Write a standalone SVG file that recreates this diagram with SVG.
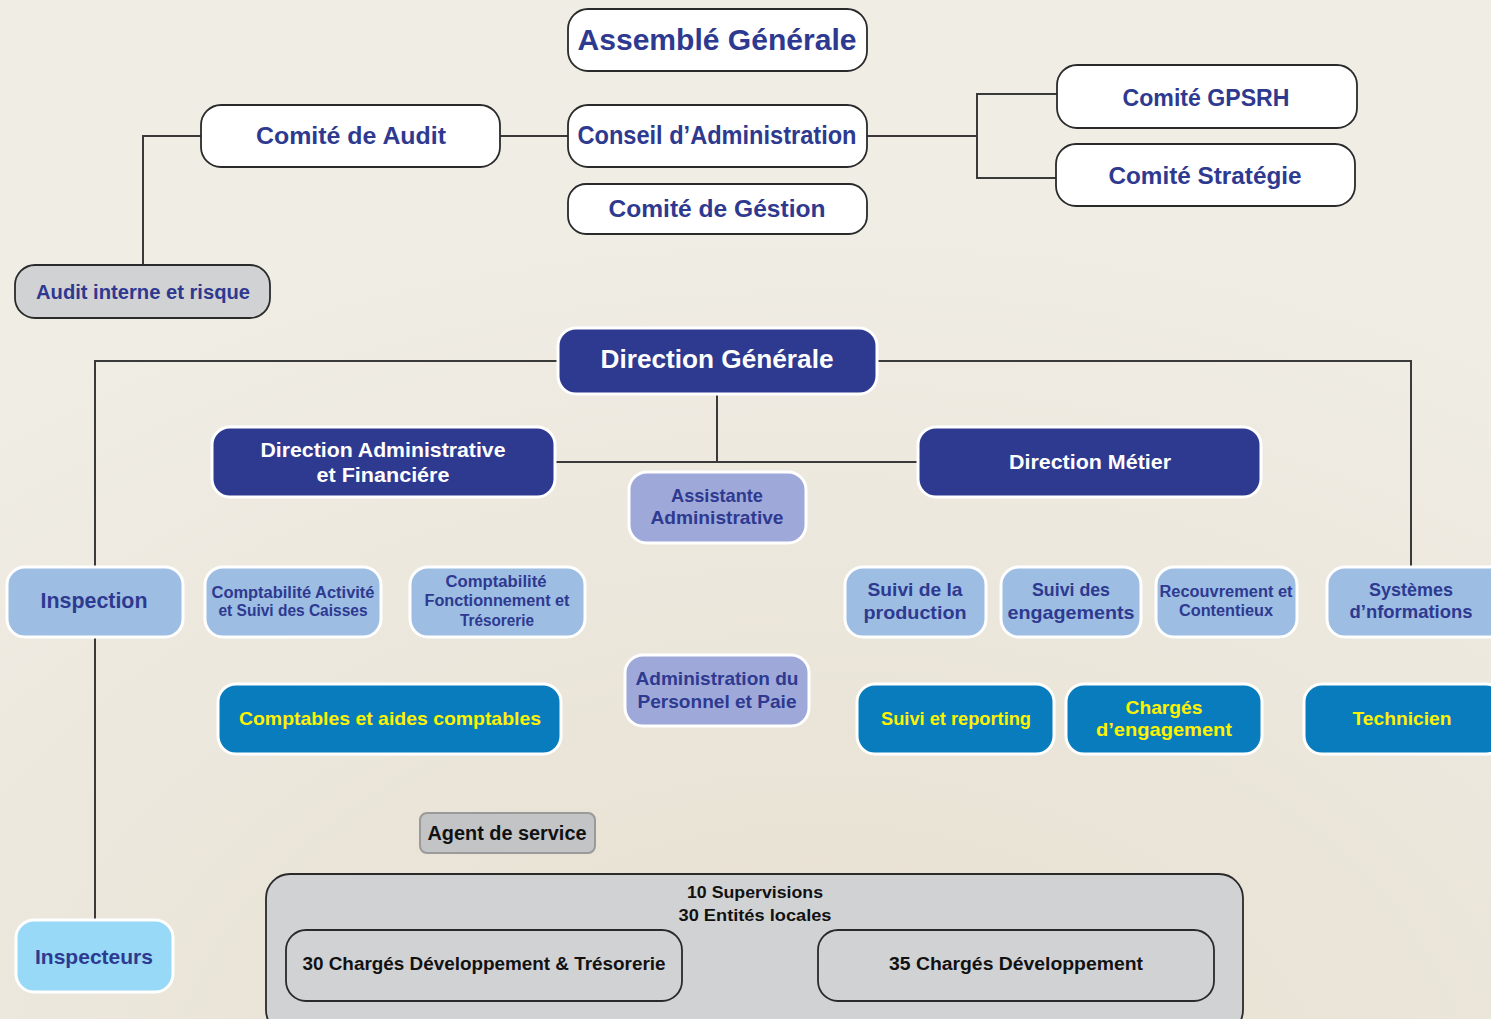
<svg xmlns="http://www.w3.org/2000/svg" width="1491" height="1019" viewBox="0 0 1491 1019">
<defs>
<style>
text{font-family:"Liberation Sans",Arial,sans-serif;font-weight:700;text-anchor:middle;dominant-baseline:central}
.wb{fill:#ffffff;stroke:#2a2a2a;stroke-width:1.8}
.nv{fill:#2e3990;stroke:#ffffff;stroke-width:3}
.lb{fill:#9dbde3;stroke:#ffffff;stroke-width:3}
.pw{fill:#9ea9d9;stroke:#ffffff;stroke-width:3}
.bl{fill:#087cbd;stroke:#ffffff;stroke-width:3}
.sk{fill:#97d9f7;stroke:#ffffff;stroke-width:3}
.gy{fill:#d1d2d4;stroke:#2a2a2a;stroke-width:1.8}
.ag{fill:#c3c4c6;stroke:#9a9a9a;stroke-width:2}
.tb{fill:#2e3990}
.tw{fill:#ffffff}
.ty{fill:#fff200}
.tk{fill:#111111}
.cn{fill:none;stroke:#3a3a3a;stroke-width:2}
</style>
<radialGradient id="bg" cx="0.55" cy="1.1" r="0.9">
<stop offset="0" stop-color="#e6dfcf"/>
<stop offset="0.6" stop-color="#ece7dc"/>
<stop offset="1" stop-color="#f0ede5"/>
</radialGradient>
</defs>
<rect x="0" y="0" width="1491" height="1019" fill="url(#bg)"/>

<g id="connectors">
<polyline class="cn" points="201,136 143,136 143,265"/>
<line class="cn" x1="500" y1="136" x2="568" y2="136"/>
<line class="cn" x1="867" y1="136" x2="977" y2="136"/>
<polyline class="cn" points="1057,94 977,94 977,178 1056,178"/>
<polyline class="cn" points="558,361 95,361 95,567"/>
<polyline class="cn" points="877,361 1411,361 1411,567"/>
<line class="cn" x1="717" y1="395" x2="717" y2="462"/>
<line class="cn" x1="555" y1="462" x2="918" y2="462"/>
<line class="cn" x1="95" y1="637" x2="95" y2="920"/>
</g>

<g id="assemble-generale">
<rect class="wb" x="568" y="9" width="299" height="62" rx="20"/>
<text class="tb" x="717" y="39" font-size="30" textLength="279" lengthAdjust="spacingAndGlyphs">Assemblé Générale</text>
</g>
<g id="comite-audit">
<rect class="wb" x="201" y="105" width="299" height="62" rx="20"/>
<text class="tb" x="351" y="135" font-size="24" textLength="190" lengthAdjust="spacingAndGlyphs">Comité de Audit</text>
</g>
<g id="conseil-administration">
<rect class="wb" x="568" y="105" width="299" height="62" rx="20"/>
<text class="tb" x="717" y="135" font-size="25" textLength="279" lengthAdjust="spacingAndGlyphs">Conseil d’Administration</text>
</g>
<g id="comite-gestion">
<rect class="wb" x="568" y="184" width="299" height="50" rx="18"/>
<text class="tb" x="717" y="208" font-size="24" textLength="217" lengthAdjust="spacingAndGlyphs">Comité de Géstion</text>
</g>
<g id="comite-gpsrh">
<rect class="wb" x="1057" y="65" width="300" height="63" rx="20"/>
<text class="tb" x="1206" y="97" font-size="24" textLength="167" lengthAdjust="spacingAndGlyphs">Comité GPSRH</text>
</g>
<g id="comite-strategie">
<rect class="wb" x="1056" y="144" width="299" height="62" rx="20"/>
<text class="tb" x="1205" y="175" font-size="24" textLength="193" lengthAdjust="spacingAndGlyphs">Comité Stratégie</text>
</g>
<g id="audit-interne">
<rect class="gy" x="15" y="265" width="255" height="53" rx="20"/>
<text class="tb" x="143" y="292" font-size="20" textLength="214" lengthAdjust="spacingAndGlyphs">Audit interne et risque</text>
</g>

<g id="direction-generale">
<rect class="nv" x="558" y="328" width="319" height="66" rx="18"/>
<text class="tw" x="717" y="359" font-size="26" textLength="233" lengthAdjust="spacingAndGlyphs">Direction Générale</text>
</g>
<g id="daf">
<rect class="nv" x="212" y="427" width="343" height="70" rx="18"/>
<text class="tw" x="383" y="449" font-size="21" textLength="245" lengthAdjust="spacingAndGlyphs">Direction Administrative</text>
<text class="tw" x="383" y="474" font-size="21" textLength="133" lengthAdjust="spacingAndGlyphs">et Financiére</text>
</g>
<g id="direction-metier">
<rect class="nv" x="918" y="427" width="343" height="70" rx="18"/>
<text class="tw" x="1090" y="461" font-size="21" textLength="162" lengthAdjust="spacingAndGlyphs">Direction Métier</text>
</g>
<g id="assistante">
<rect class="pw" x="629" y="472" width="177" height="71" rx="18"/>
<text class="tb" x="717" y="495" font-size="19" textLength="92" lengthAdjust="spacingAndGlyphs">Assistante</text>
<text class="tb" x="717" y="517" font-size="19" textLength="133" lengthAdjust="spacingAndGlyphs">Administrative</text>
</g>

<g id="inspection">
<rect class="lb" x="7" y="567" width="176" height="70" rx="18"/>
<text class="tb" x="94" y="600" font-size="22" textLength="107" lengthAdjust="spacingAndGlyphs">Inspection</text>
</g>
<g id="compta-activite">
<rect class="lb" x="205" y="567" width="176" height="70" rx="18"/>
<text class="tb" x="293" y="592" font-size="16" textLength="163" lengthAdjust="spacingAndGlyphs">Comptabilité Activité</text>
<text class="tb" x="293" y="610" font-size="16" textLength="149" lengthAdjust="spacingAndGlyphs">et Suivi des Caisses</text>
</g>
<g id="compta-fonctionnement">
<rect class="lb" x="410" y="567" width="175" height="70" rx="18"/>
<text class="tb" x="496" y="581" font-size="16" textLength="101" lengthAdjust="spacingAndGlyphs">Comptabilité</text>
<text class="tb" x="497" y="600" font-size="16" textLength="145" lengthAdjust="spacingAndGlyphs">Fonctionnement et</text>
<text class="tb" x="497" y="620" font-size="16" textLength="74" lengthAdjust="spacingAndGlyphs">Trésorerie</text>
</g>
<g id="suivi-production">
<rect class="lb" x="845" y="567" width="141" height="70" rx="18"/>
<text class="tb" x="915" y="589" font-size="19" textLength="95" lengthAdjust="spacingAndGlyphs">Suivi de la</text>
<text class="tb" x="915" y="612" font-size="19" textLength="103" lengthAdjust="spacingAndGlyphs">production</text>
</g>
<g id="suivi-engagements">
<rect class="lb" x="1001" y="567" width="140" height="70" rx="18"/>
<text class="tb" x="1071" y="589" font-size="19" textLength="78" lengthAdjust="spacingAndGlyphs">Suivi des</text>
<text class="tb" x="1071" y="612" font-size="19" textLength="127" lengthAdjust="spacingAndGlyphs">engagements</text>
</g>
<g id="recouvrement">
<rect class="lb" x="1156" y="567" width="141" height="70" rx="18"/>
<text class="tb" x="1226" y="591" font-size="16" textLength="133" lengthAdjust="spacingAndGlyphs">Recouvrement et</text>
<text class="tb" x="1226" y="610" font-size="16" textLength="94" lengthAdjust="spacingAndGlyphs">Contentieux</text>
</g>
<g id="systemes-informations">
<rect class="lb" x="1327" y="567" width="180" height="70" rx="18"/>
<text class="tb" x="1411" y="589" font-size="19" textLength="84" lengthAdjust="spacingAndGlyphs">Systèmes</text>
<text class="tb" x="1411" y="611" font-size="19" textLength="123" lengthAdjust="spacingAndGlyphs">d’nformations</text>
</g>

<g id="administration-personnel">
<rect class="pw" x="625" y="655" width="184" height="71" rx="18"/>
<text class="tb" x="717" y="678" font-size="19" textLength="163" lengthAdjust="spacingAndGlyphs">Administration du</text>
<text class="tb" x="717" y="701" font-size="19" textLength="159" lengthAdjust="spacingAndGlyphs">Personnel et Paie</text>
</g>
<g id="comptables">
<rect class="bl" x="218" y="684" width="343" height="70" rx="18"/>
<text class="ty" x="390" y="718" font-size="19" textLength="302" lengthAdjust="spacingAndGlyphs">Comptables et aides comptables</text>
</g>
<g id="suivi-reporting">
<rect class="bl" x="857" y="684" width="197" height="70" rx="18"/>
<text class="ty" x="956" y="718" font-size="19" textLength="150" lengthAdjust="spacingAndGlyphs">Suivi et reporting</text>
</g>
<g id="charges-engagement">
<rect class="bl" x="1066" y="684" width="196" height="70" rx="18"/>
<text class="ty" x="1164" y="707" font-size="19" textLength="77" lengthAdjust="spacingAndGlyphs">Chargés</text>
<text class="ty" x="1164" y="729" font-size="19" textLength="136" lengthAdjust="spacingAndGlyphs">d’engagement</text>
</g>
<g id="technicien">
<rect class="bl" x="1304" y="684" width="200" height="70" rx="18"/>
<text class="ty" x="1402" y="718" font-size="19" textLength="99" lengthAdjust="spacingAndGlyphs">Technicien</text>
</g>

<g id="agent-service">
<rect class="ag" x="420" y="813" width="175" height="40" rx="7"/>
<text class="tk" x="507" y="833" font-size="20" textLength="159" lengthAdjust="spacingAndGlyphs">Agent de service</text>
</g>

<g id="entites-locales">
<rect class="gy" x="266" y="874" width="977" height="160" rx="24"/>
<text class="tk" x="755" y="892" font-size="17" textLength="136" lengthAdjust="spacingAndGlyphs">10 Supervisions</text>
<text class="tk" x="755" y="915" font-size="17" textLength="153" lengthAdjust="spacingAndGlyphs">30 Entités locales</text>
</g>
<g id="charges-dev-tresorerie">
<rect class="gy" x="286" y="930" width="396" height="71" rx="20"/>
<text class="tk" x="484" y="964" font-size="18" textLength="363" lengthAdjust="spacingAndGlyphs">30 Chargés Développement &amp; Trésorerie</text>
</g>
<g id="charges-dev">
<rect class="gy" x="818" y="930" width="396" height="71" rx="20"/>
<text class="tk" x="1016" y="964" font-size="18" textLength="254" lengthAdjust="spacingAndGlyphs">35 Chargés Développement</text>
</g>

<g id="inspecteurs">
<rect class="sk" x="16" y="920" width="157" height="72" rx="18"/>
<text class="tb" x="94" y="956" font-size="21" textLength="118" lengthAdjust="spacingAndGlyphs">Inspecteurs</text>
</g>
</svg>
